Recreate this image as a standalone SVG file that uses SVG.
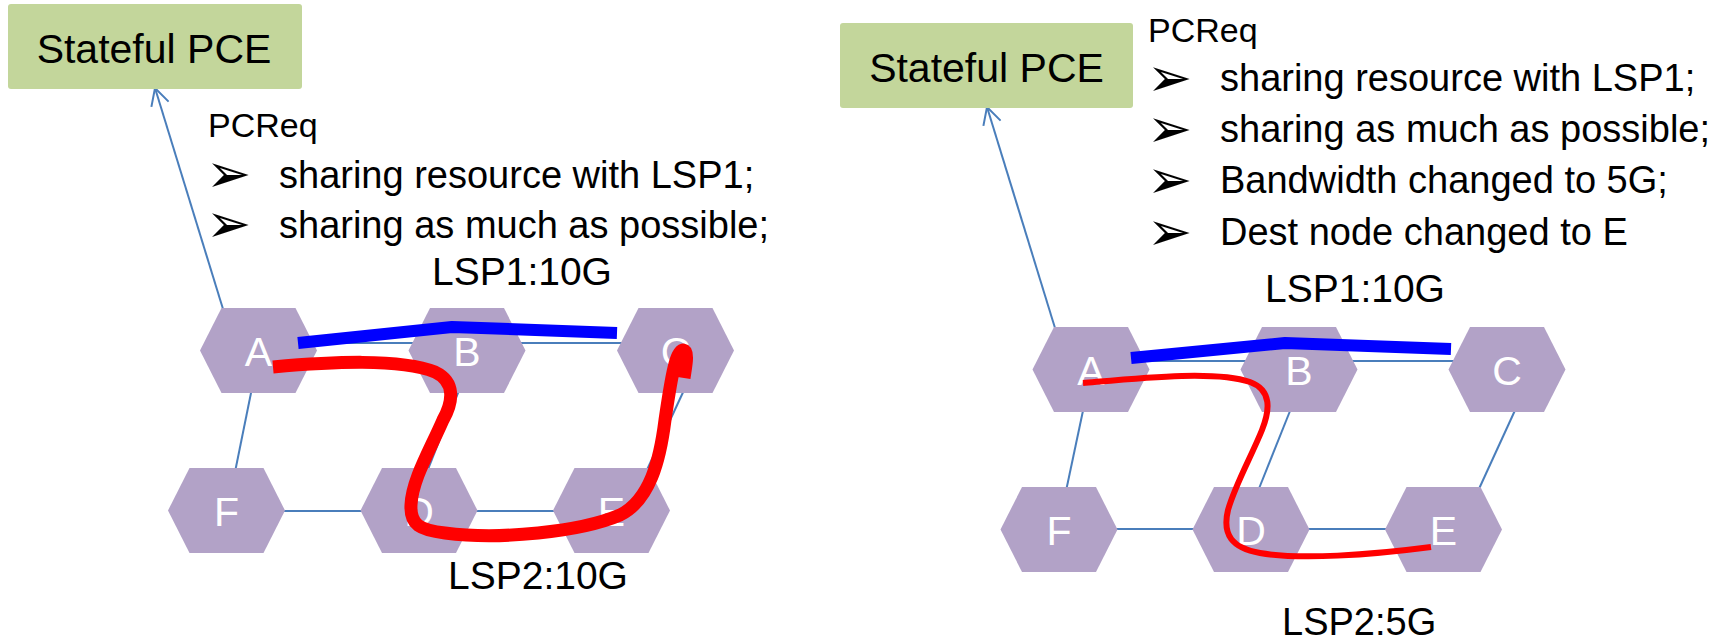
<svg xmlns="http://www.w3.org/2000/svg" width="1720" height="641" viewBox="0 0 1720 641">
  <style>
    .pce { fill: #c3d69b; }
    .txt { font-family: "Liberation Sans", Arial, sans-serif; fill: #000; }
    .hexfill { fill: #b2a2c7; }
    .lbl { font-family: "Liberation Sans", Arial, sans-serif; font-size: 41px; fill: #fff; text-anchor: middle; }
    .link { stroke: #4a7ebb; stroke-width: 2; fill: none; }
    .bul { font-family: "DejaVu Sans", sans-serif; font-size: 54px; fill: #000; }
    .lsp1 { stroke: #0000ff; stroke-width: 12; fill: none; stroke-linejoin: round; }
    .lsp2 { stroke: #ff0000; fill: none; stroke-linejoin: round; }
  </style>
  <defs>
    <polygon id="hex" points="-58.5,0 -37,-42.5 37,-42.5 58.5,0 37,42.5 -37,42.5"/>
    <marker id="openArrow" viewBox="0 0 20 20" refX="19" refY="10" markerWidth="20" markerHeight="20" markerUnits="userSpaceOnUse" orient="auto">
      <path d="M2,1 L19,10 L2,19" fill="none" stroke="#4a7ebb" stroke-width="2"/>
    </marker>
  </defs>
  <rect width="1720" height="641" fill="#ffffff"/>

  <!-- connectors -->
  <g id="connectors">
    <!-- left panel -->
    <line class="link" x1="223" y1="309" x2="155" y2="88" marker-end="url(#openArrow)"/>
    <line class="link" x1="305" y1="343" x2="420" y2="343"/>
    <line class="link" x1="515" y1="343" x2="630" y2="343"/>
    <line class="link" x1="252" y1="388" x2="235" y2="472"/>
    <line class="link" x1="460" y1="388" x2="427" y2="472"/>
    <line class="link" x1="685" y1="388" x2="646" y2="472"/>
    <line class="link" x1="275" y1="511" x2="370" y2="511"/>
    <line class="link" x1="470" y1="511" x2="560" y2="511"/>
    <!-- right panel -->
    <line class="link" x1="1055" y1="328" x2="987" y2="107" marker-end="url(#openArrow)"/>
    <line class="link" x1="1140" y1="361" x2="1250" y2="361"/>
    <line class="link" x1="1350" y1="361" x2="1455" y2="361"/>
    <line class="link" x1="1084" y1="406" x2="1066" y2="491"/>
    <line class="link" x1="1292" y1="406" x2="1258" y2="491"/>
    <line class="link" x1="1517" y1="406" x2="1478" y2="491"/>
    <line class="link" x1="1110" y1="529" x2="1200" y2="529"/>
    <line class="link" x1="1300" y1="529" x2="1392" y2="529"/>
  </g>

  <!-- PCE nodes -->
  <g id="pce-left">
    <rect class="pce" x="8" y="4" width="294" height="85" rx="3"/>
    <text class="txt" x="154" y="63" font-size="41" text-anchor="middle">Stateful PCE</text>
  </g>
  <g id="pce-right">
    <rect class="pce" x="840" y="23" width="293" height="85" rx="3"/>
    <text class="txt" x="986.5" y="82" font-size="41" text-anchor="middle">Stateful PCE</text>
  </g>

  <!-- left network nodes -->
  <g id="L-A"><use href="#hex" class="hexfill" x="258.5" y="350.5"/><text class="lbl" x="258.5" y="366">A</text></g>
  <g id="L-B"><use href="#hex" class="hexfill" x="467" y="350.5"/><text class="lbl" x="467" y="366">B</text></g>
  <g id="L-C"><use href="#hex" class="hexfill" x="675.5" y="350.5"/><text class="lbl" x="675.5" y="366">C</text></g>
  <g id="L-F"><use href="#hex" class="hexfill" x="226.5" y="510.5"/><text class="lbl" x="226.5" y="526">F</text></g>
  <g id="L-D"><use href="#hex" class="hexfill" x="419" y="510.5"/><text class="lbl" x="419" y="526">D</text></g>
  <g id="L-E"><use href="#hex" class="hexfill" x="611.5" y="510.5"/><text class="lbl" x="611.5" y="526">E</text></g>

  <!-- right network nodes -->
  <g id="R-A"><use href="#hex" class="hexfill" x="1091" y="369.5"/><text class="lbl" x="1091" y="385">A</text></g>
  <g id="R-B"><use href="#hex" class="hexfill" x="1299" y="369.5"/><text class="lbl" x="1299" y="385">B</text></g>
  <g id="R-C"><use href="#hex" class="hexfill" x="1507" y="369.5"/><text class="lbl" x="1507" y="385">C</text></g>
  <g id="R-F"><use href="#hex" class="hexfill" x="1059" y="529.5"/><text class="lbl" x="1059" y="545">F</text></g>
  <g id="R-D"><use href="#hex" class="hexfill" x="1251" y="529.5"/><text class="lbl" x="1251" y="545">D</text></g>
  <g id="R-E"><use href="#hex" class="hexfill" x="1443.5" y="529.5"/><text class="lbl" x="1443.5" y="545">E</text></g>

  <!-- LSP routes -->
  <g id="lsp-routes">
    <polyline class="lsp1" points="298,343 452,327 617,333"/>
    <path class="lsp2" stroke-width="13" d="M273,367 C330,362 400,358 435,372 C456,382 453,402 443,420 C430,450 412,480 411,505 C410,525 420,530 445,533 C500,540 580,532 620,515 C650,500 660,460 665,420 C672,372 676,352 683,350 C689,351 686,365 684,378"/>
    <polyline class="lsp1" points="1131,358 1285,343 1451,349"/>
    <path class="lsp2" stroke-width="6" d="M1083,383 C1140,378 1215,370 1250,382 C1272,390 1270,410 1262,430 C1252,455 1235,485 1228,510 C1222,535 1232,548 1260,553 C1300,560 1370,555 1431,547"/>
  </g>

  <!-- left text -->
  <g id="L-text">
    <text class="txt" x="208" y="137" font-size="34">PCReq</text>
    <text class="bul" x="206" y="192">➢</text>
    <text class="txt" x="279" y="188" font-size="38">sharing resource with LSP1;</text>
    <text class="bul" x="206" y="242">➢</text>
    <text class="txt" x="279" y="238" font-size="38">sharing as much as possible;</text>
    <text class="txt" x="432" y="285" font-size="39">LSP1:10G</text>
    <text class="txt" x="448" y="589" font-size="39">LSP2:10G</text>
  </g>

  <!-- right text -->
  <g id="R-text">
    <text class="txt" x="1148" y="42" font-size="34">PCReq</text>
    <text class="bul" x="1147" y="96">➢</text>
    <text class="txt" x="1220" y="91" font-size="38">sharing resource with LSP1;</text>
    <text class="bul" x="1147" y="147">➢</text>
    <text class="txt" x="1220" y="142" font-size="38">sharing as much as possible;</text>
    <text class="bul" x="1147" y="198">➢</text>
    <text class="txt" x="1220" y="193" font-size="38">Bandwidth changed to 5G;</text>
    <text class="bul" x="1147" y="250">➢</text>
    <text class="txt" x="1220" y="245" font-size="38">Dest node changed to E</text>
    <text class="txt" x="1265" y="302" font-size="39">LSP1:10G</text>
    <text class="txt" x="1282" y="635" font-size="38">LSP2:5G</text>
  </g>
</svg>
